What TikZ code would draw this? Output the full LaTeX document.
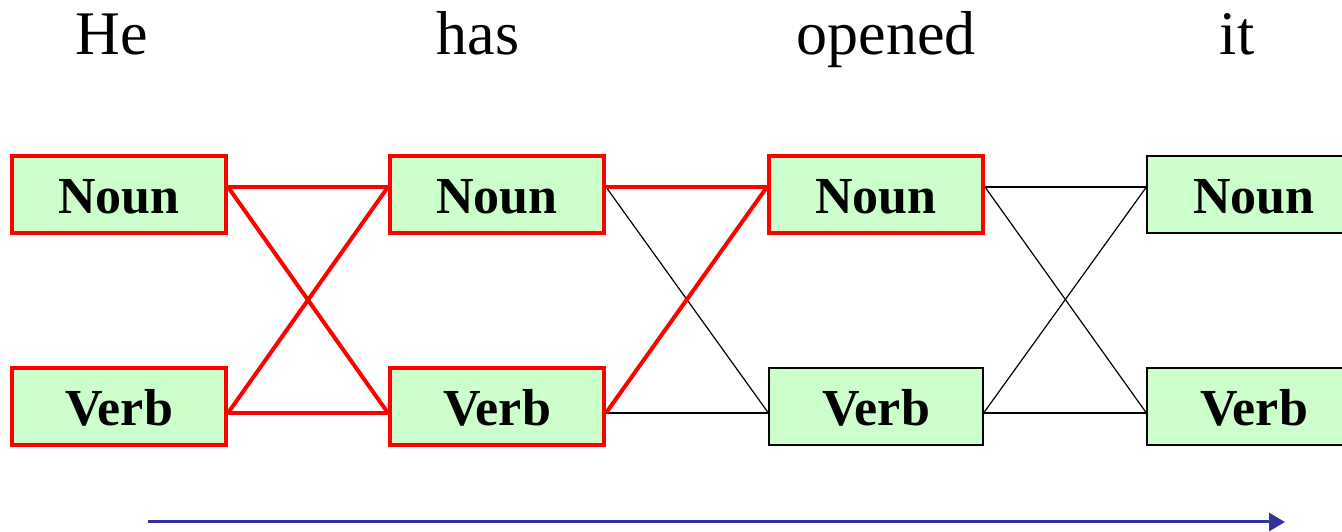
\documentclass[tikz,border=0pt]{standalone}
\usepackage{fontspec}
\setmainfont{Liberation Serif}
\usetikzlibrary{arrows.meta}
\definecolor{tagfill}{HTML}{CCFFCC}
\definecolor{timeblue}{HTML}{333399}
\begin{document}
\begin{tikzpicture}[x=1pt,y=1pt,
 tag/.style={draw=black, line width=1.2pt, fill=tagfill, minimum width=214pt, minimum height=77pt, inner sep=0pt, text height=39pt, text depth=0pt, font=\fontsize{52}{60}\selectfont\bfseries},
 best/.style={draw=red, line width=4pt},
 word/.style={anchor=base, font=\fontsize{62}{70}\selectfont},
 link/.style={line width=1.2pt},
 bestlink/.style={red, line width=4pt}]
 \useasboundingbox (0,0) rectangle (1342,532);
 \clip (0,0) rectangle (1342,532);
 \node[word] (w1) at (112,477) {He};
 \node[word] (w2) at (478,477) {has};
 \node[word] (w3) at (886,477) {opened};
 \node[word] (w4) at (1237,477) {it};
 \node[tag,best] (n1) at (119,337.5) {Noun};
 \node[tag,best] (v1) at (119,125.5) {Verb};
 \node[tag,best] (n2) at (497,337.5) {Noun};
 \node[tag,best] (v2) at (497,125.5) {Verb};
 \node[tag,best] (n3) at (876,337.5) {Noun};
 \node[tag] (v3) at (876,125.5) {Verb};
 \node[tag] (n4) at (1254,337.5) {Noun};
 \node[tag] (v4) at (1254,125.5) {Verb};
 \draw[link] ([yshift=7.5pt]n2.east) -- ([yshift=-6.5pt]v3.west);
 \draw[link] ([yshift=-6.5pt]v2.east) -- ([yshift=-6.5pt]v3.west);
 \draw[link] ([yshift=7.5pt]n3.east) -- ([yshift=7.5pt]n4.west);
 \draw[link] ([yshift=7.5pt]n3.east) -- ([yshift=-6.5pt]v4.west);
 \draw[link] ([yshift=-6.5pt]v3.east) -- ([yshift=7.5pt]n4.west);
 \draw[link] ([yshift=-6.5pt]v3.east) -- ([yshift=-6.5pt]v4.west);
 \draw[bestlink] ([yshift=7.5pt]n1.east) -- ([yshift=7.5pt]n2.west);
 \draw[bestlink] ([yshift=7.5pt]n1.east) -- ([yshift=-6.5pt]v2.west);
 \draw[bestlink] ([yshift=-6.5pt]v1.east) -- ([yshift=7.5pt]n2.west);
 \draw[bestlink] ([yshift=-6.5pt]v1.east) -- ([yshift=-6.5pt]v2.west);
 \draw[bestlink] ([yshift=7.5pt]n2.east) -- ([yshift=7.5pt]n3.west);
 \draw[bestlink] ([yshift=-6.5pt]v2.east) -- ([yshift=7.5pt]n3.west);
 \coordinate (t0) at (148,10);
 \coordinate (t1) at (1285,10);
 \draw[timeblue, line width=3pt, -{Triangle[length=16pt,width=18pt]}] (t0) -- (t1);
\end{tikzpicture}
\end{document}
